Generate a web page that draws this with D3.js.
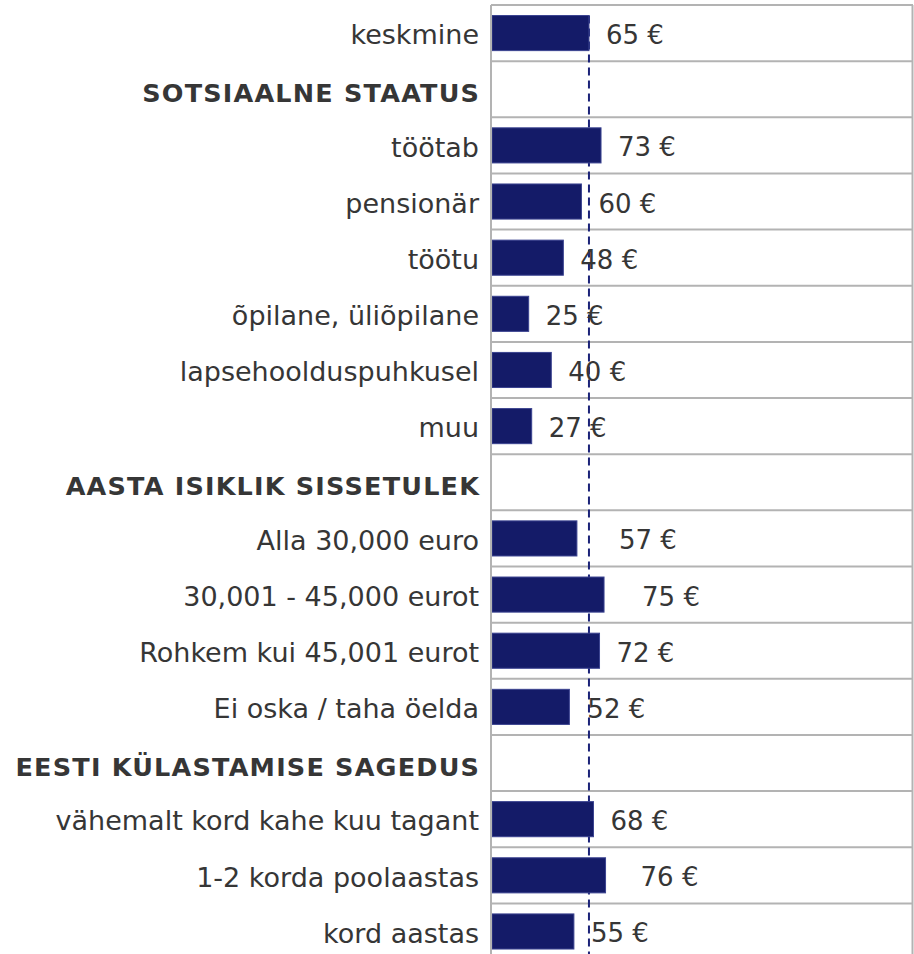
<!DOCTYPE html>
<html>
<head>
<meta charset="utf-8">
<script src="https://cdn.jsdelivr.net/npm/d3@7"></script>
<style>
  body { margin: 0; background: #fff; }
  svg { display: block; }
</style>
</head>
<body>
<script>
// chart data
const categories = [
  "keskmine",
  "SOTSIAALNE STAATUS",
  "töötab",
  "pensionär",
  "töötu",
  "õpilane, üliõpilane",
  "lapsehoolduspuhkusel",
  "muu",
  "AASTA ISIKLIK SISSETULEK",
  "Alla 30,000 euro",
  "30,001 - 45,000 eurot",
  "Rohkem kui 45,001 eurot",
  "Ei oska / taha öelda",
  "EESTI KÜLASTAMISE SAGEDUS",
  "vähemalt kord kahe kuu tagant",
  "1-2 korda poolaastas",
  "kord aastas"
];
const values = [65, null, 73, 60, 48, 25, 40, 27, null, 57, 75, 72, 52, null, 68, 76, 55];
const average = 65;

// label nudges (px) as placed in the original
const labelShift = [17, 0, 17, 17, 17, 17, 17, 17, 0, 42, 38, 17, 18, 0, 17, 35, 17];

const width = 914;
const height = 954;
const plotLeft = 491;
const plotRight = 913;
const plotTop = 5;
const rowH = 56.15;

const svg = d3.select("body")
  .append("svg")
  .attr("width", width)
  .attr("height", height);

const y = d3.scaleBand()
  .domain(d3.range(categories.length))
  .range([plotTop, plotTop + rowH * categories.length])
  .paddingInner(0.375)
  .paddingOuter(0.1875);

const x = d3.scaleLinear()
  .domain([0, 280])
  .range([plotLeft, plotRight]);

const step = y.step();
const mid = (i) => y(i) + y.bandwidth() / 2;

// row lines
svg.append("g")
  .selectAll("line")
  .data(d3.range(categories.length + 1))
  .join("line")
  .attr("x1", plotLeft)
  .attr("x2", plotRight)
  .attr("y1", (i) => plotTop + i * step)
  .attr("y2", (i) => plotTop + i * step)
  .attr("stroke", "#b3b3b3")
  .attr("stroke-width", 2);

// frame right side
svg.append("line")
  .attr("x1", plotRight - 0.5).attr("x2", plotRight - 0.5)
  .attr("y1", plotTop).attr("y2", height)
  .attr("stroke", "#b3b3b3").attr("stroke-width", 2);

// average line
svg.append("line")
  .attr("x1", x(average)).attr("x2", x(average))
  .attr("y1", y(0)).attr("y2", height)
  .attr("stroke", "#1b2378")
  .attr("stroke-width", 2)
  .attr("stroke-dasharray", "8,5");

// bars
const rows = categories.map((c, i) => ({ label: c, value: values[i], i }));

svg.append("g")
  .selectAll("rect")
  .data(rows.filter((d) => d.value != null))
  .join("rect")
  .attr("x", x(0) + 1)
  .attr("y", (d) => y(d.i))
  .attr("width", (d) => x(d.value) - x(0) - 1)
  .attr("height", y.bandwidth())
  .attr("fill", "#141b68")
  .attr("stroke", "#3b4390")
  .attr("stroke-width", 1);

// left axis line
svg.append("line")
  .attr("x1", plotLeft).attr("x2", plotLeft)
  .attr("y1", plotTop).attr("y2", height)
  .attr("stroke", "#b3b3b3").attr("stroke-width", 2);

// category labels (section headings are the rows without a value)
svg.append("g")
  .selectAll("text")
  .data(rows)
  .join("text")
  .attr("x", (d) => plotLeft - 12 + (d.value == null ? 1.2 : 0))
  .attr("y", (d) => mid(d.i) + (d.value == null ? 12.5 : 11.2))
  .attr("text-anchor", "end")
  .attr("fill", "#363636")
  .style("font-family", "'DejaVu Sans', Verdana, sans-serif")
  .style("font-size", (d) => d.value == null ? "25.5px" : "27px")
  .style("font-weight", (d) => d.value == null ? "bold" : "normal")
  .style("letter-spacing", (d) => d.value == null ? "1.2px" : "0px")
  .text((d) => d.label);

// value labels
svg.append("g")
  .selectAll("text")
  .data(rows.filter((d) => d.value != null))
  .join("text")
  .attr("x", (d) => x(d.value) + labelShift[d.i])
  .attr("y", (d) => mid(d.i) + 11)
  .attr("fill", "#363636")
  .style("font-family", "'DejaVu Sans', Verdana, sans-serif")
  .style("font-size", "26px")
  .text((d) => d.value + " €");
</script>
</body>
</html>
